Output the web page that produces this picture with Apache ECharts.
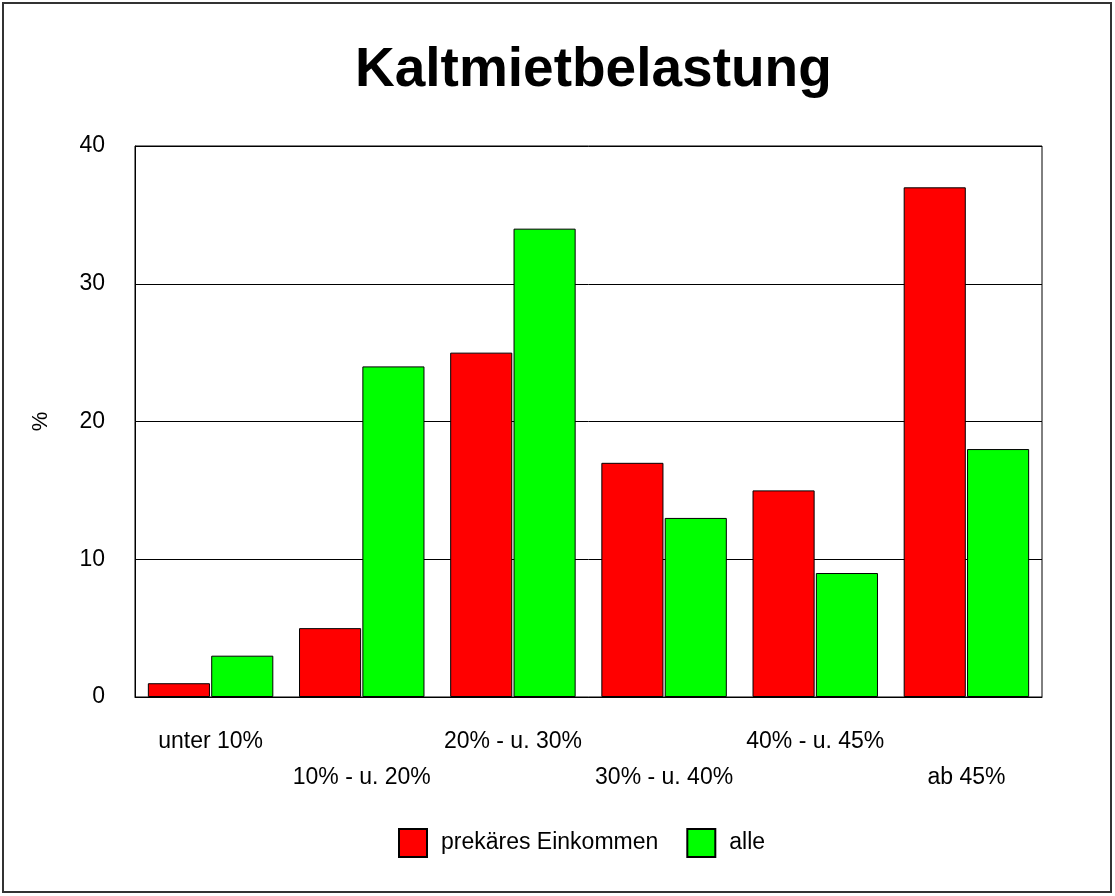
<!DOCTYPE html>
<html>
<head>
<meta charset="utf-8">
<script src="https://cdn.jsdelivr.net/npm/echarts@6/dist/echarts.min.js"></script>
<style>html,body{margin:0;padding:0;background:#fff;}#c{width:1115px;height:896px;}</style>
</head>
<body>
<div id="c"></div>
<script>
const categories = ['unter 10%', '10% - u. 20%', '20% - u. 30%', '30% - u. 40%', '40% - u. 45%', 'ab 45%'];
const prekaer = [1, 5, 25, 17, 15, 37];
const alle = [3, 24, 34, 13, 9, 18];
const yTicks = [0, 10, 20, 30, 40];

const chart = echarts.init(document.getElementById('c'), null, {renderer: 'canvas'});
const font = "'Liberation Sans', Arial, sans-serif";
chart.setOption({
  animation: false,
  backgroundColor: '#fff',
  title: {
    text: 'Kaltmietbelastung',
    left: 350,
    top: 38,
    textStyle: {fontFamily: font, fontSize: 55, fontWeight: 'bold', color: '#000'}
  },
  graphic: [{
    type: 'rect',
    shape: {x: 3, y: 3, width: 1108, height: 889},
    style: {fill: 'none', stroke: '#333', lineWidth: 2},
    silent: true
  }],
  legend: {
    left: 393,
    top: 823,
    itemWidth: 28,
    itemHeight: 28,
    itemGap: 28,
    icon: 'rect',
    textStyle: {fontFamily: font, fontSize: 23, color: '#000', padding: [12, 0, 0, 9]},
    data: ['prekäres Einkommen', 'alle']
  },
  grid: {left: 135, right: 73, top: 146, bottom: 199, show: true, borderColor: '#000', borderWidth: 1},
  xAxis: {
    type: 'category',
    data: categories,
    axisLine: {lineStyle: {color: '#000'}},
    axisTick: {show: false},
    axisLabel: {
      interval: 0,
      margin: 27,
      fontFamily: font,
      fontSize: 23,
      lineHeight: 36,
      color: '#000',
      formatter: function (v, i) { return i % 2 ? '\n' + v : v; }
    }
  },
  yAxis: {
    type: 'value',
    min: yTicks[0],
    max: yTicks[yTicks.length - 1],
    interval: 10,
    name: '%',
    nameLocation: 'middle',
    nameGap: 83,
    nameRotate: 90,
    nameTextStyle: {fontFamily: font, fontSize: 22, color: '#000'},
    axisLine: {show: true, lineStyle: {color: '#000'}},
    axisTick: {show: false},
    splitLine: {lineStyle: {color: '#000', width: 1}},
    axisLabel: {margin: 30, fontFamily: font, fontSize: 23, color: '#000'}
  },
  series: [
    {
      name: 'prekäres Einkommen',
      type: 'bar',
      data: prekaer,
      barGap: '2%',
      barCategoryGap: '17%',
      itemStyle: {color: '#ff0000', borderColor: '#000', borderWidth: 1}
    },
    {
      name: 'alle',
      type: 'bar',
      data: alle,
      barGap: '2%',
      barCategoryGap: '17%',
      itemStyle: {color: '#00ff00', borderColor: '#000', borderWidth: 1}
    }
  ]
});
</script>
</body>
</html>
